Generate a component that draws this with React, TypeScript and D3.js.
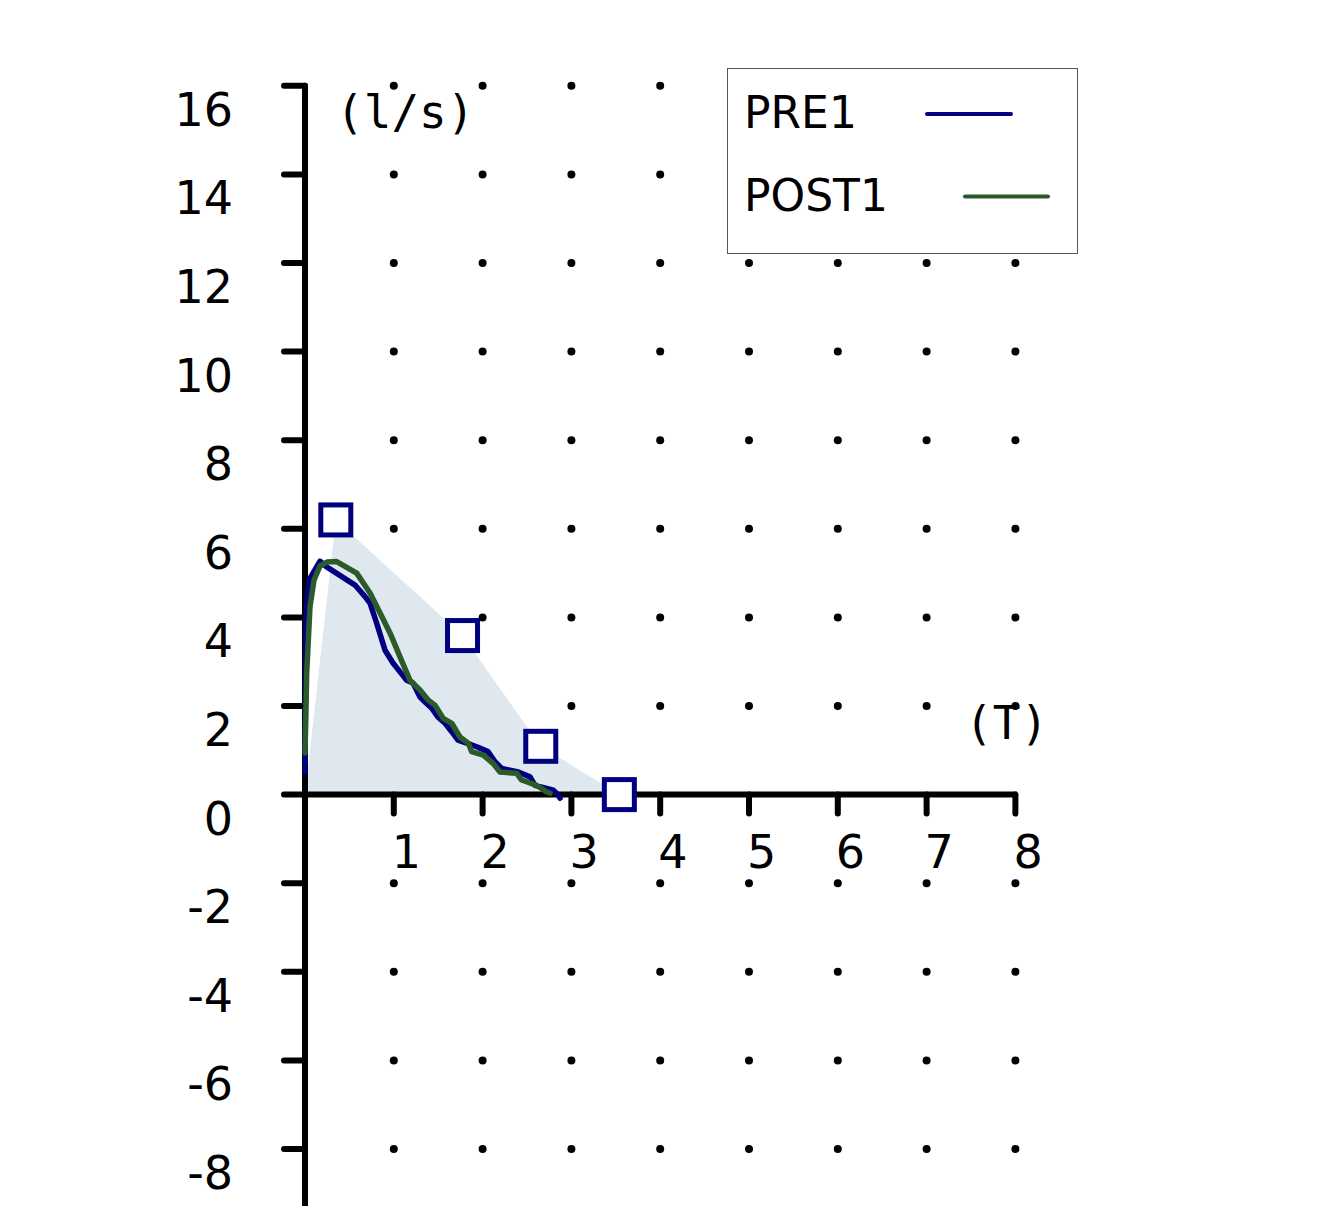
import React from "react";
import * as d3 from "d3";

const xTicks = [1, 2, 3, 4, 5, 6, 7, 8];
const yTicks = [-8, -6, -4, -2, 0, 2, 4, 6, 8, 10, 12, 14, 16];

const preX = [0, 0.005, 0.011, 0.045, 0.169, 0.244, 0.563, 0.676, 0.732, 0.807, 0.901, 0.991, 1.07, 1.145, 1.216, 1.295, 1.351, 1.427, 1.498, 1.577, 1.652, 1.723, 1.821, 1.934, 2.061, 2.14, 2.215, 2.402, 2.534, 2.59, 2.796, 2.852, 2.872];
const preY = [0.5, 2.0, 4.0, 4.84, 5.27, 5.14, 4.73, 4.47, 4.32, 3.87, 3.26, 2.97, 2.77, 2.58, 2.52, 2.2, 2.09, 1.95, 1.75, 1.61, 1.42, 1.23, 1.16, 1.08, 0.97, 0.74, 0.59, 0.51, 0.4, 0.21, 0.1, -0.01, -0.08];

const postX = [0, 0.019, 0.056, 0.101, 0.169, 0.248, 0.357, 0.582, 0.732, 0.845, 0.957, 1.07, 1.182, 1.295, 1.389, 1.464, 1.557, 1.652, 1.745, 1.839, 1.877, 2.008, 2.12, 2.196, 2.384, 2.44, 2.609, 2.722, 2.76];
const postY = [0.94, 2.74, 4.24, 4.84, 5.16, 5.25, 5.26, 5.0, 4.55, 4.1, 3.65, 3.11, 2.58, 2.36, 2.13, 2.02, 1.72, 1.61, 1.3, 1.16, 0.97, 0.89, 0.7, 0.51, 0.48, 0.33, 0.21, 0.06, 0.03];

const markX = [0.347, 1.774, 2.655, 3.54];
const markY = [6.2, 3.59, 1.09, 0];

const seriesNames = ["PRE1", "POST1"];
const seriesColors = ["#000080", "#2b5a2b"];

const W = 1342;
const H = 1206;

export default function App() {
  const x = d3.scaleLinear().domain([0, 8]).range([305, 1015.4]);
  const y = d3.scaleLinear().domain([-8, 16]).range([1149, 85.8]);

  const pre = preX.map((v, i) => [v, preY[i]] as [number, number]);
  const post = postX.map((v, i) => [v, postY[i]] as [number, number]);
  const line = d3
    .line<[number, number]>()
    .x((d) => x(d[0]))
    .y((d) => y(d[1]));

  const poly: [number, number][] = [[0, 0], ...markX.map((v, i) => [v, markY[i]] as [number, number]), [markX[markX.length - 1], 0]];

  const dots: [number, number][] = [];
  xTicks.forEach((xv) => yTicks.forEach((yv) => { if (yv !== 0) dots.push([xv, yv]); }));

  const tickFont = "'DejaVu Sans', sans-serif";
  const monoFont = "'DejaVu Sans Mono', monospace";

  return (
    <svg width={W} height={H} style={{ position: "absolute", left: 0, top: 0, background: "#fff" }}>
      <rect x={0} y={0} width={W} height={H} fill="#fff" />
      {dots.map((d, i) => (
        <circle key={i} cx={x(d[0])} cy={y(d[1])} r={4} fill="#000" />
      ))}
      <path d={line(poly) || ""} fill="#dfe7ef" stroke="none" />
      {/* axes */}
      <line x1={x(0)} x2={x(0)} y1={y(16)} y2={H + 20} stroke="#000" strokeWidth={6} strokeLinecap="round" />
      <line x1={x(0)} x2={x(8)} y1={y(0)} y2={y(0)} stroke="#000" strokeWidth={6} strokeLinecap="round" />
      {yTicks.map((t) => (
        <line key={"yt" + t} x1={x(0) - 21} x2={x(0)} y1={y(t)} y2={y(t)} stroke="#000" strokeWidth={6} strokeLinecap="round" />
      ))}
      {xTicks.map((t) => (
        <line key={"xt" + t} x1={x(t)} x2={x(t)} y1={y(0)} y2={y(0) + 19} stroke="#000" strokeWidth={6} strokeLinecap="round" />
      ))}
      {yTicks.map((t) => (
        <text key={"yl" + t} x={233} y={y(t) + 40} textAnchor="end" fontFamily={tickFont} fontSize={46} fill="#000">
          {t < 0 ? "-" + Math.abs(t) : String(t)}
        </text>
      ))}
      {xTicks.map((t) => (
        <text key={"xl" + t} x={x(t) - 2} y={y(0) + 73} textAnchor="start" fontFamily={tickFont} fontSize={46} fill="#000">
          {String(t)}
        </text>
      ))}
      <text x={336} y={128} fontFamily={monoFont} fontSize={46} fill="#000">(l/s)</text>
      <text x={965} y={739} fontFamily={monoFont} fontSize={46} fill="#000">(T)</text>
      {/* curves */}
      <path d={line(pre) || ""} fill="none" stroke={seriesColors[0]} strokeWidth={5.5} strokeLinejoin="round" strokeLinecap="round" />
      <path d={line(post) || ""} fill="none" stroke={seriesColors[1]} strokeWidth={5.5} strokeLinejoin="round" strokeLinecap="round" />
      {/* markers */}
      {markX.map((v, i) => (
        <rect key={"m" + i} x={x(v) - 15} y={y(markY[i]) - 15} width={30} height={30} fill="#fff" stroke="#000080" strokeWidth={5} />
      ))}
      {/* legend */}
      <rect x={727.5} y={68.5} width={350} height={185} fill="#fff" stroke="#555" strokeWidth={1} />
      <text x={744} y={128} fontFamily={tickFont} fontSize={44} fill="#000">{seriesNames[0]}</text>
      <line x1={927} x2={1011} y1={114} y2={114} stroke={seriesColors[0]} strokeWidth={4} strokeLinecap="round" />
      <text x={744} y={211} fontFamily={tickFont} fontSize={44} fill="#000">{seriesNames[1]}</text>
      <line x1={965} x2={1048} y1={196.5} y2={196.5} stroke={seriesColors[1]} strokeWidth={4} strokeLinecap="round" />
    </svg>
  );
}
